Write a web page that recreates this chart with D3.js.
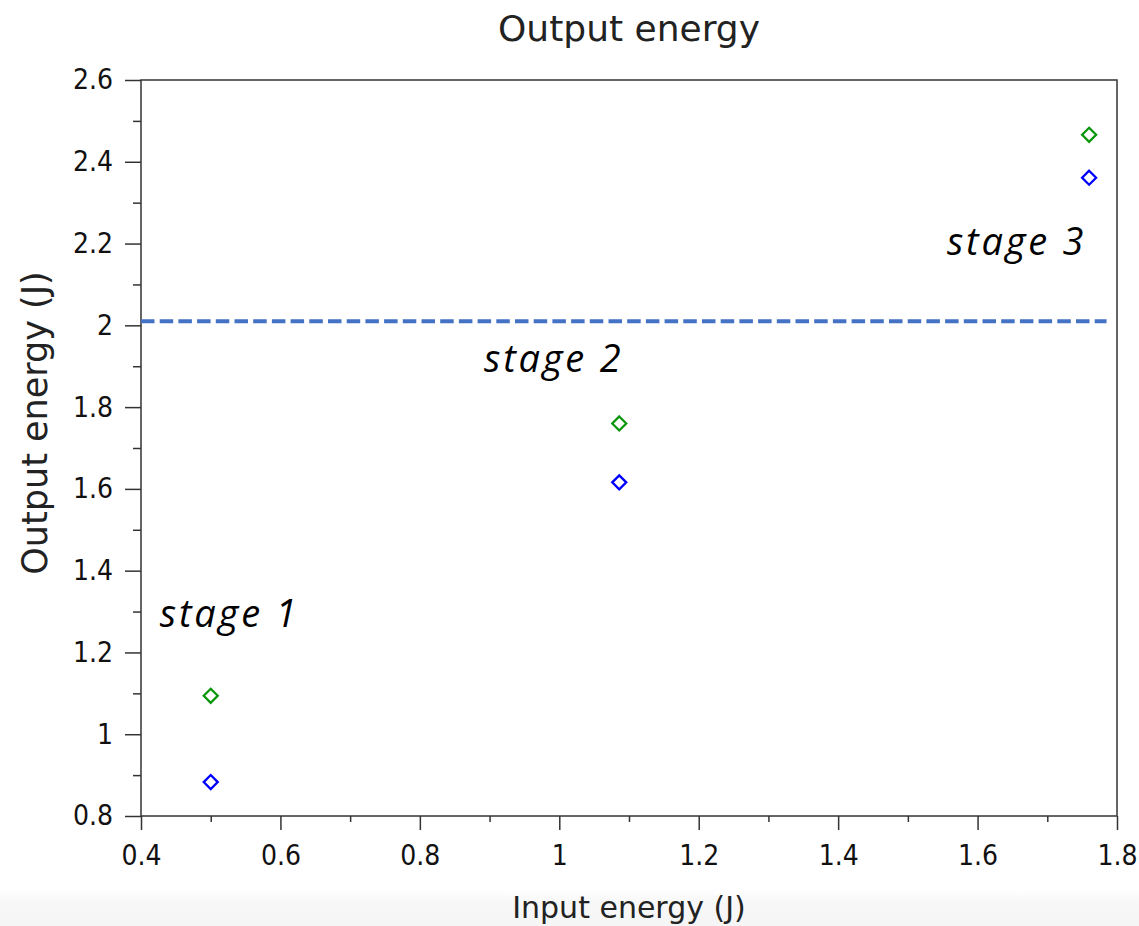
<!DOCTYPE html>
<html>
<head>
<meta charset="utf-8">
<script src="https://cdn.jsdelivr.net/npm/d3@7"></script>
<style>
  body { margin: 0; background: #fff; }
  svg { display: block; }
  .tick text { font-family: "DejaVu Sans Condensed", "DejaVu Sans", sans-serif; font-size: 28px; fill: #111; }
</style>
</head>
<body>
<svg id="chart" width="1139" height="926"></svg>
<script>
// values
const stages = ["stage 1", "stage 2", "stage 3"];
const inputEnergy = [0.5, 1.086, 1.76];
const outputGreen = [1.094, 1.760, 2.466];
const outputBlue = [0.883, 1.616, 2.361];
const threshold = 2.01;
// where each stage label sits, in data units (x, baseline y)
const labelX = [0.427, 0.892, 1.556];
const labelY = [1.262, 1.886, 2.172];

const xTicks = [0.4, 0.6, 0.8, 1, 1.2, 1.4, 1.6, 1.8];
const yTicks = [0.8, 1, 1.2, 1.4, 1.6, 1.8, 2, 2.2, 2.4, 2.6];
const xMinor = d3.range(0.5, 1.8, 0.2);
const yMinor = d3.range(0.9, 2.6, 0.2);

const svg = d3.select('#chart');
const plotL = 141, plotR = 1117, plotT = 80, plotB = 816;

const x = d3.scaleLinear().domain([0.4, 1.8]).range([plotL, plotR]);
const y = d3.scaleLinear().domain([0.8, 2.6]).range([plotB, plotT]);

// light band at the very bottom of the screenshot
const grad = svg.append('defs').append('linearGradient')
  .attr('id', 'band').attr('x1', 0).attr('x2', 0).attr('y1', 0).attr('y2', 1);
grad.append('stop').attr('offset', 0).attr('stop-color', '#ffffff');
grad.append('stop').attr('offset', 0.3).attr('stop-color', '#f8f8f8');
grad.append('stop').attr('offset', 1).attr('stop-color', '#f5f5f5');
svg.append('rect')
  .attr('x', 0).attr('y', 890).attr('width', 1139).attr('height', 36)
  .attr('fill', 'url(#band)');

const fmt = d => String(+d.toFixed(1));

// minor ticks first, so majors draw on top
svg.append('g')
  .attr('transform', `translate(0,${plotB})`)
  .call(d3.axisBottom(x).tickValues(xMinor).tickSize(6).tickFormat(''))
  .call(g => g.select('.domain').remove())
  .call(g => g.selectAll('line').attr('stroke', '#333').attr('stroke-width', 1.5));

svg.append('g')
  .attr('transform', `translate(${plotL},0)`)
  .call(d3.axisLeft(y).tickValues(yMinor).tickSize(8).tickFormat(''))
  .call(g => g.select('.domain').remove())
  .call(g => g.selectAll('line').attr('stroke', '#333').attr('stroke-width', 1.5));

const xAxis = svg.append('g')
  .attr('transform', `translate(0,${plotB})`)
  .call(d3.axisBottom(x).tickValues(xTicks).tickSize(14).tickPadding(15).tickFormat(fmt));
xAxis.select('.domain').remove();
xAxis.selectAll('line').attr('stroke', '#333').attr('stroke-width', 1.5);

const yAxis = svg.append('g')
  .attr('transform', `translate(${plotL},0)`)
  .call(d3.axisLeft(y).tickValues(yTicks).tickSize(16).tickPadding(12).tickFormat(fmt));
yAxis.select('.domain').remove();
yAxis.selectAll('line').attr('stroke', '#333').attr('stroke-width', 1.5);

// frame
svg.append('rect')
  .attr('x', plotL).attr('y', plotT)
  .attr('width', plotR - plotL).attr('height', plotB - plotT)
  .attr('fill', 'none').attr('stroke', '#333').attr('stroke-width', 1.5);

// dashed threshold line
svg.append('line')
  .attr('x1', x(0.4)).attr('x2', x(1.785))
  .attr('y1', y(threshold)).attr('y2', y(threshold))
  .attr('stroke', '#4472c4').attr('stroke-width', 4)
  .attr('stroke-dasharray', '13.5 5.2');

const diamond = d3.symbol().type(d3.symbolDiamond2).size(125);

const drawSeries = (vals, color) => {
  svg.append('g')
    .selectAll('path')
    .data(vals)
    .enter()
    .append('path')
    .attr('d', diamond)
    .attr('transform', (d, i) => `translate(${x(inputEnergy[i])},${y(d)})`)
    .attr('fill', 'none')
    .attr('stroke', color)
    .attr('stroke-width', 2.3);
};
drawSeries(outputGreen, '#0a960a');
drawSeries(outputBlue, '#0000ff');

svg.append('g')
  .selectAll('text')
  .data(stages)
  .enter()
  .append('text')
  .attr('x', (d, i) => x(labelX[i]))
  .attr('y', (d, i) => y(labelY[i]))
  .attr('font-family', '"Open Sans", "Noto Sans", sans-serif')
  .attr('font-style', 'italic')
  .attr('font-size', 38)
  .attr('letter-spacing', 2.8)
  .attr('fill', '#000')
  .text(d => d);

// titles
svg.append('text')
  .attr('x', (plotL + plotR) / 2).attr('y', 41)
  .attr('text-anchor', 'middle')
  .attr('font-family', '"DejaVu Sans", sans-serif')
  .attr('font-size', 36).attr('fill', '#222')
  .text('Output energy');

svg.append('text')
  .attr('x', (plotL + plotR) / 2).attr('y', 918)
  .attr('text-anchor', 'middle')
  .attr('font-family', '"DejaVu Sans", sans-serif')
  .attr('font-size', 30).attr('fill', '#222')
  .text('Input energy (J)');

svg.append('text')
  .attr('transform', 'translate(47,423) rotate(-90)')
  .attr('text-anchor', 'middle')
  .attr('font-family', '"DejaVu Sans", sans-serif')
  .attr('font-size', 35).attr('fill', '#222')
  .text('Output energy (J)');
</script>
</body>
</html>
